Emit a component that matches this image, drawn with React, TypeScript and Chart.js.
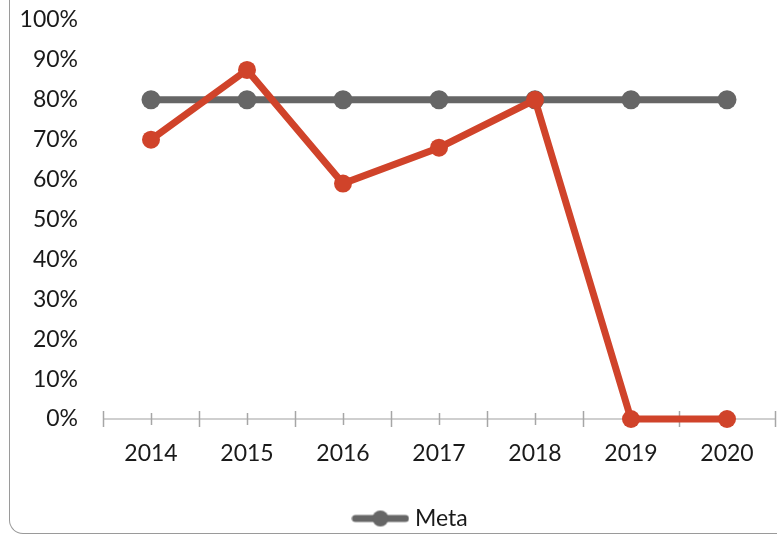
import React, { useEffect, useRef } from "react";
import { Chart, registerables } from "chart.js";

Chart.register(...registerables);

const years = ["2014", "2015", "2016", "2017", "2018", "2019", "2020"];
const resultado = [0.7, 0.875, 0.59, 0.68, 0.8, 0, 0];
const meta = [0.8, 0.8, 0.8, 0.8, 0.8, 0.8, 0.8];
const resultadoLabel = "Resultado";
const metaLabel = "Meta";

const RED = "#D0432A";
const GRAY = "#666666";
const FONT = "Lato, 'Open Sans', sans-serif";

function makeLegendImage(): HTMLCanvasElement {
  const c = document.createElement("canvas");
  c.width = 58;
  c.height = 18;
  const ctx = c.getContext("2d")!;
  ctx.strokeStyle = GRAY;
  ctx.lineWidth = 7;
  ctx.lineCap = "round";
  ctx.beginPath();
  ctx.moveTo(4, 9);
  ctx.lineTo(54, 9);
  ctx.stroke();
  ctx.fillStyle = GRAY;
  ctx.beginPath();
  ctx.arc(29, 9, 8, 0, Math.PI * 2);
  ctx.fill();
  return c;
}

const axisPlugin = {
  id: "axisTicks",
  afterLayout(chart: any) {
    const lg = chart.legend;
    if (lg) {
      lg.left += 50;
    }
  },
  beforeDatasetsDraw(chart: any) {
    const { ctx, chartArea, scales } = chart;
    const xs = scales.x;
    const ys = scales.y;
    const y0 = ys.getPixelForValue(0);
    ctx.save();
    ctx.strokeStyle = "#BFBFBF";
    ctx.lineWidth = 1.5;
    ctx.beginPath();
    ctx.moveTo(chartArea.left, y0);
    ctx.lineTo(chartArea.right, y0);
    ctx.stroke();
    ctx.strokeStyle = "#A6A6A6";
    const n = years.length;
    const p0 = xs.getPixelForValue(0);
    const step = n > 1 ? xs.getPixelForValue(1) - p0 : 0;
    for (let i = 0; i <= n; i++) {
      const x = Math.round(p0 + (i - 0.5) * step) + 0.5;
      ctx.beginPath();
      ctx.moveTo(x, y0 - 8);
      ctx.lineTo(x, y0 + 8);
      ctx.stroke();
    }
    for (let i = 0; i < n; i++) {
      const x = Math.round(xs.getPixelForValue(i)) + 0.5;
      ctx.beginPath();
      ctx.moveTo(x, y0 - 6);
      ctx.lineTo(x, y0 + 6);
      ctx.stroke();
    }
    ctx.restore();
  },
};

export default function App() {
  const ref = useRef<HTMLCanvasElement>(null);
  useEffect(() => {
    if (!ref.current) return;
    const legendImg = makeLegendImage();
    const chart = new Chart(ref.current, {
      type: "line",
      data: {
        labels: years,
        datasets: [
          {
            label: resultadoLabel,
            data: resultado,
            borderColor: RED,
            backgroundColor: RED,
            borderWidth: 7,
            pointRadius: 9,
            pointBackgroundColor: RED,
            pointBorderWidth: 0,
            tension: 0,
            clip: false,
          },
          {
            label: metaLabel,
            data: meta,
            borderColor: GRAY,
            backgroundColor: GRAY,
            borderWidth: 7,
            pointRadius: 9.5,
            pointBackgroundColor: GRAY,
            pointBorderWidth: 0,
            tension: 0,
            clip: false,
          },
        ],
      },
      options: {
        animation: false,
        responsive: false,
        maintainAspectRatio: false,
        layout: { autoPadding: false, padding: { left: 0, right: 2, top: 20, bottom: 0 } },
        elements: { point: { pointStyle: "circle" } },
        plugins: {
          tooltip: { enabled: false },
          legend: {
            display: true,
            position: "bottom",
            labels: {
              usePointStyle: true,
              pointStyleWidth: 46,
              padding: 10,
              color: "#1a1a1a",
              font: { family: FONT, size: 23 },
              filter: (item: any) => item.text === metaLabel,
              generateLabels: (chart: any) =>
                chart.data.datasets.map((ds: any, i: number) => ({
                  text: ds.label,
                  datasetIndex: i,
                  pointStyle: i === 1 ? legendImg : "circle",
                  fillStyle: ds.borderColor,
                  strokeStyle: ds.borderColor,
                  lineWidth: 0,
                  hidden: false,
                  fontColor: "#1a1a1a",
                })),
            },
          },
        },
        scales: {
          x: {
            type: "category",
            offset: true,
            grid: { display: false, drawTicks: true, tickLength: 21 },
            border: { display: false },
            ticks: {
              color: "#1a1a1a",
              font: { family: FONT, size: 23 },
              padding: 0,
              maxRotation: 0,
            },
            afterFit: (s: any) => {
              s.height = 78;
              s.paddingLeft = 0;
              s.paddingRight = 0;
            },
          },
          y: {
            min: 0,
            max: 1,
            grid: { display: false, drawTicks: true, tickLength: 25 },
            border: { display: false },
            ticks: {
              stepSize: 0.1,
              padding: 0,
              color: "#1a1a1a",
              font: { family: FONT, size: 23 },
              callback: (v: any) => Math.round(Number(v) * 100) + "%",
            },
            afterFit: (s: any) => {
              s.width = 103;
            },
          },
        },
      },
      plugins: [axisPlugin],
    });
    return () => chart.destroy();
  }, []);

  return (
    <div
      style={{
        position: "fixed",
        left: 0,
        top: 0,
        width: 777,
        height: 536,
        overflow: "hidden",
        background: "#fff",
      }}
    >
      <div
        style={{
          position: "absolute",
          left: 9,
          top: -30,
          width: 820,
          height: 564,
          borderLeft: "1.5px solid #9A9A9A",
          borderBottom: "1.5px solid #9A9A9A",
          borderBottomLeftRadius: 14,
          boxSizing: "border-box",
        }}
      />
      <canvas
        ref={ref}
        width={777}
        height={540}
        style={{ position: "absolute", left: 0, top: 0, width: 777, height: 540 }}
      />
    </div>
  );
}
